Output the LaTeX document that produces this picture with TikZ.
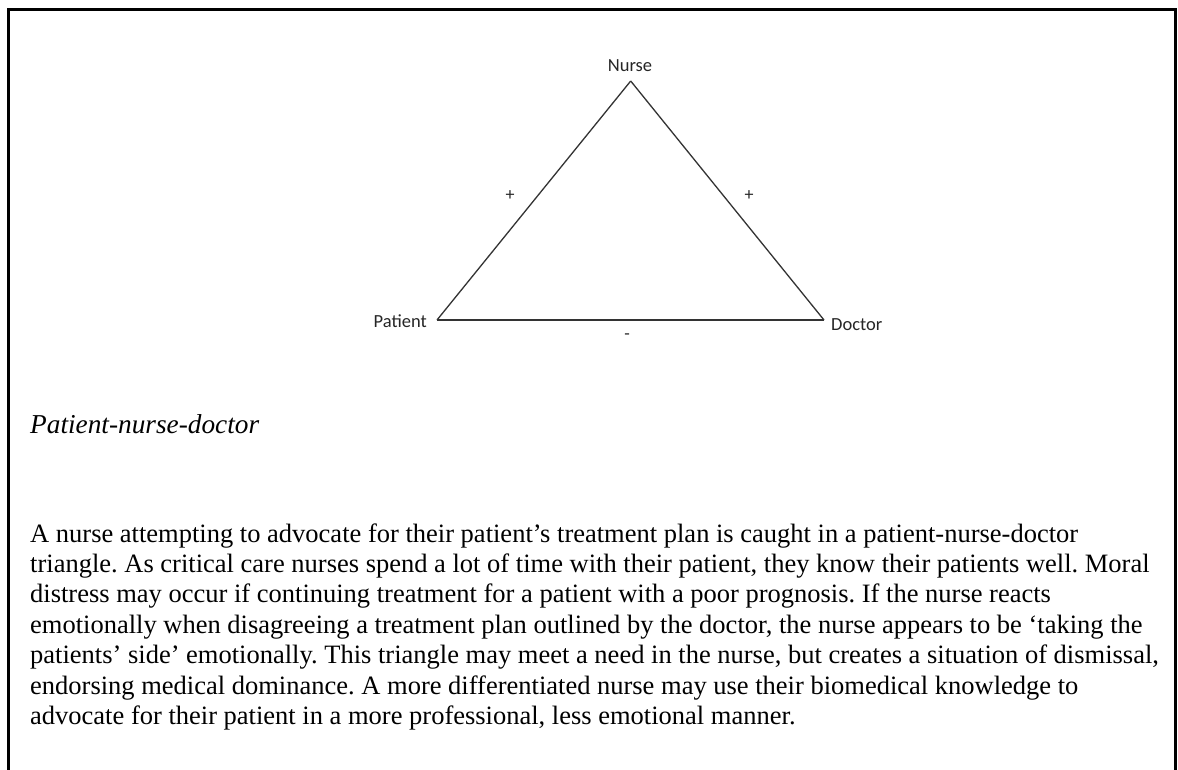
\documentclass[tikz,border=0pt]{standalone}
\usepackage{fontspec}
\setmainfont{Liberation Serif}
\newfontfamily\labelfont{Carlito}
\frenchspacing
\begin{document}
\begin{tikzpicture}[x=1pt,y=-1pt,
  frameline/.style={line width=2.6pt,line cap=rect},
  edge/.style={draw=black!80,line width=1.3pt,line join=miter},
  vertexlabel/.style={font=\labelfont\fontsize{18.5}{20}\selectfont,text=black!85,inner sep=0pt},
  signlabel/.style={font=\labelfont\fontsize{18}{20}\selectfont,text=black!85,inner sep=0pt},
  bodyline/.style={anchor=base west,inner sep=0pt,font=\fontsize{26.5}{30}\selectfont},
  caption/.style={anchor=base west,inner sep=0pt,font=\itshape\fontsize{27.3}{32}\selectfont}]
  \useasboundingbox (0,0) rectangle (1178,769);
  \fill[white] (0,0) rectangle (1178,769);

  % open frame: left, top and right sides
  \coordinate (fbl) at (8.5,769);
  \coordinate (ftl) at (8.5,9.5);
  \coordinate (ftr) at (1175.5,9.5);
  \coordinate (fbr) at (1175.5,769);
  \draw[frameline] (fbl) -- (ftl) -- (ftr) -- (fbr);

  % triangle corners
  \coordinate (nurse) at (630.7,81);
  \coordinate (patient) at (437,320);
  \coordinate (doctor) at (824,320);

  \draw[edge] (patient) -- (nurse);
  \draw[edge] (nurse) -- (doctor);
  \draw[edge] (doctor) -- (patient);

  \node[vertexlabel] (nurselbl) at (630,66) {Nurse};
  \node[vertexlabel,anchor=east] (patientlbl) at (427,321) {Patient};
  \node[vertexlabel,anchor=west] (doctorlbl) at (831,325) {Doctor};

  \node[signlabel] (pnsign) at (510,196) {+};
  \node[signlabel] (ndsign) at (749,196) {+};
  \node[signlabel] (pdsign) at (627,337) {-};

  % caption and paragraph
  \node[caption] (title) at (30,433) {Patient-nurse-doctor};

  \node[bodyline] (l1) at (30,542) {A nurse attempting to advocate for their patient’s treatment plan is caught in a patient-nurse-doctor};
  \node[bodyline] (l2) at (30,572.4) {triangle. As critical care nurses spend a lot of time with their patient, they know their patients well. Moral};
  \node[bodyline] (l3) at (30,602.8) {distress may occur if continuing treatment for a patient with a poor prognosis. If the nurse reacts};
  \node[bodyline] (l4) at (30,633.2) {emotionally when disagreeing a treatment plan outlined by the doctor, the nurse appears to be ‘taking the};
  \node[bodyline] (l5) at (30,663.6) {patients’ side’ emotionally. This triangle may meet a need in the nurse, but creates a situation of dismissal,};
  \node[bodyline] (l6) at (30,694) {endorsing medical dominance. A more differentiated nurse may use their biomedical knowledge to};
  \node[bodyline] (l7) at (30,724.4) {advocate for their patient in a more professional, less emotional manner.};
\end{tikzpicture}
\end{document}
